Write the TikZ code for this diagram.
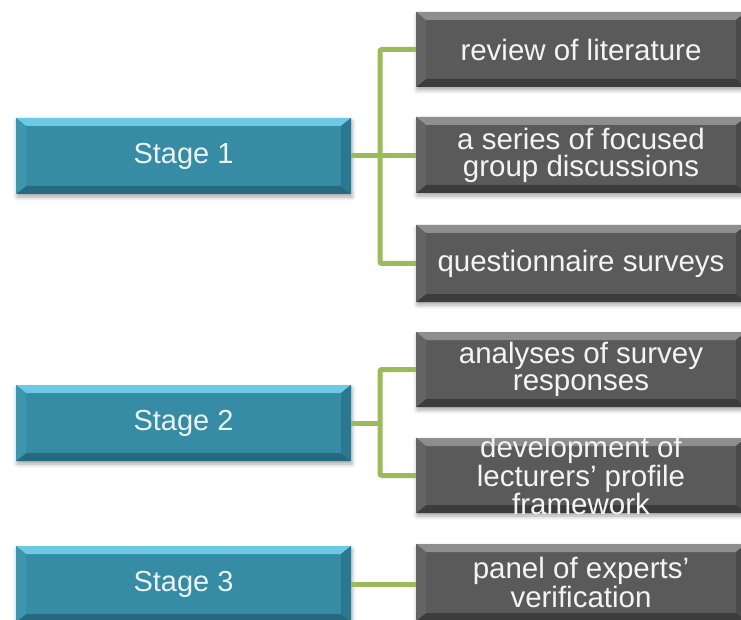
\documentclass[tikz,border=0pt]{standalone}
\usepackage{fontspec}
\setmainfont{Liberation Sans}
\usetikzlibrary{shadows.blur}
\definecolor{tealmain}{HTML}{368BA5}
\definecolor{teallight}{HTML}{6CCAE5}
\definecolor{tealdark}{HTML}{276A80}
\definecolor{tealleft}{HTML}{3E95AE}
\definecolor{tealright}{HTML}{2C7890}
\definecolor{graymain}{HTML}{5A5A5A}
\definecolor{graylight}{HTML}{8E8E8E}
\definecolor{graydark}{HTML}{3C3C3C}
\definecolor{grayleft}{HTML}{646464}
\definecolor{grayright}{HTML}{4A4A4A}
\definecolor{conncol}{HTML}{9BBB59}
\definecolor{stagetext}{HTML}{EAF4F7}
\definecolor{itemtext}{HTML}{F4F4F4}

\newcommand\mybevel[4]{%
  \fill[#1] (path picture bounding box.north west) -- (path picture bounding box.north east)
    -- ([xshift=-10pt,yshift=-8pt]path picture bounding box.north east)
    -- ([xshift=10pt,yshift=-8pt]path picture bounding box.north west) -- cycle;
  \fill[#2] (path picture bounding box.south west) -- (path picture bounding box.south east)
    -- ([xshift=-10pt,yshift=8pt]path picture bounding box.south east)
    -- ([xshift=10pt,yshift=8pt]path picture bounding box.south west) -- cycle;
  \fill[#3] (path picture bounding box.north west) -- ([xshift=10pt,yshift=-8pt]path picture bounding box.north west)
    -- ([xshift=10pt,yshift=8pt]path picture bounding box.south west) -- (path picture bounding box.south west) -- cycle;
  \fill[#4] (path picture bounding box.north east) -- ([xshift=-10pt,yshift=-8pt]path picture bounding box.north east)
    -- ([xshift=-10pt,yshift=8pt]path picture bounding box.south east) -- (path picture bounding box.south east) -- cycle;
}

\tikzset{
  boxbase/.style={rectangle, inner sep=0pt,
    blur shadow={shadow xshift=1pt, shadow yshift=-3pt, shadow blur radius=4pt, shadow opacity=35}},
  stagebox/.style={boxbase, fill=tealmain, minimum width=335pt, minimum height=76pt,
    path picture={\mybevel{teallight}{tealdark}{tealleft}{tealright}}},
  itembox/.style={boxbase, fill=graymain, minimum width=330pt, minimum height=76pt,
    path picture={\mybevel{graylight}{graydark}{grayleft}{grayright}}},
  stagetxt/.style={text=stagetext, font=\fontsize{29}{27}\selectfont},
  itemtxt/.style={text=itemtext, align=center, font=\fontsize{29.5}{27}\selectfont},
  connline/.style={draw=conncol, line width=5pt, rounded corners=2pt},
}

\begin{document}
\begin{tikzpicture}[x=1pt, y=-1pt]
\useasboundingbox (0,0) rectangle (741,620);

% stages
\node[stagebox, label={[stagetxt]center:Stage 1}] (s1) at (183.5,156) {};
\node[stagebox, label={[stagetxt]center:Stage 2}] (s2) at (183.5,423) {};
\node[stagebox, label={[stagetxt]center:Stage 3}] (s3) at (183.5,584) {};

% items
\node[itembox, minimum height=75pt, label={[itemtxt]center:review of literature}] (g1) at (581,49.5) {};
\node[itembox, label={[itemtxt]center:a series of focused\\group discussions}] (g2) at (581,155) {};
\node[itembox, minimum height=77pt, label={[itemtxt]center:questionnaire surveys}] (g3) at (581,263.5) {};
\node[itembox, minimum height=75pt, label={[itemtxt]center:analyses of survey\\responses}] (g4) at (581,369.5) {};
\node[itembox, minimum height=75pt, label={[itemtxt]center:development of\\lecturers’ profile\\framework}] (g5) at (581,475.5) {};
\node[itembox, minimum height=77pt, label={[itemtxt]center:panel of experts’\\verification}] (g6) at (581,582.5) {};

% junctions
\coordinate (j1) at (380,156);
\coordinate (j2) at (380,423);

% connectors
\draw[connline] (s1.east) -- (s1.east -| g2.west);
\draw[connline] (g1.west) -| (j1) |- (g3.west);
\draw[connline] (s2.east) -- (j2);
\draw[connline] (g4.west) -| (j2) |- (g5.west);
\draw[connline] (s3.east) -- (s3.east -| g6.west);
\end{tikzpicture}
\end{document}
